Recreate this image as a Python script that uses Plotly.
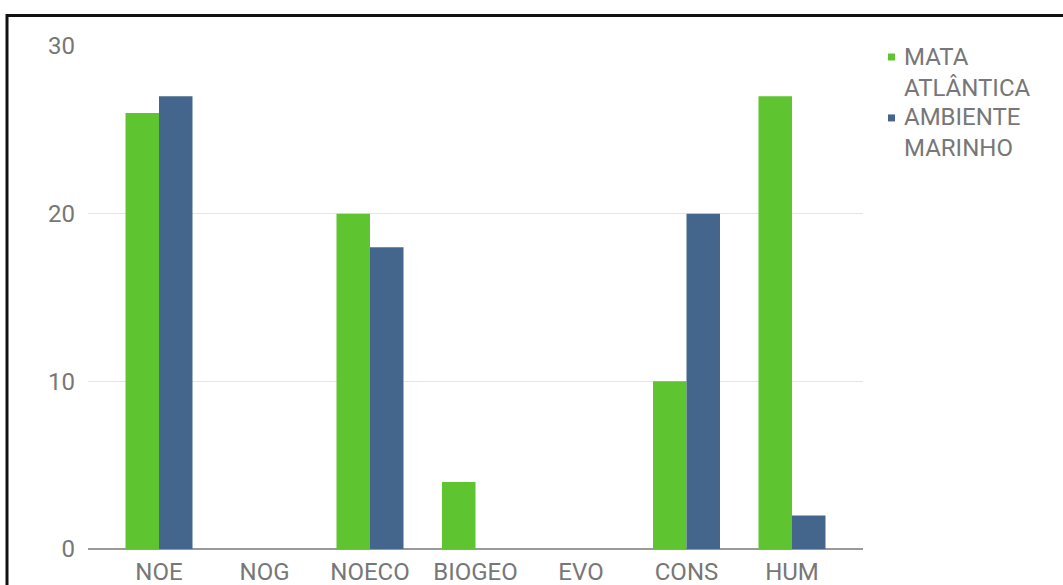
import plotly.graph_objects as go

categories = ["NOE", "NOG", "NOECO", "BIOGEO", "EVO", "CONS", "HUM"]
mata_atlantica = [26, 0, 20, 4, 0, 10, 27]
ambiente_marinho = [27, 0, 18, 0, 0, 20, 2]
series_names = ["MATA<br>ATLÂNTICA", "AMBIENTE<br>MARINHO"]
y_ticks = [0, 10, 20, 30]

GREEN = "#5ec42f"
BLUE = "#44668c"
TEXT = "#777777"
FONT = "Roboto"
FS = 24

W, H = 1063, 585
L, R, T, B = 88, 200, 45.5, 36
plot_w = W - L - R
plot_h = H - T - B


def px_x(p):
    return (p - L) / plot_w


def px_y(p):
    return (H - B - p) / plot_h


fig = go.Figure()
fig.add_trace(go.Bar(x=categories, y=mata_atlantica, name=series_names[0],
                     marker=dict(color=GREEN, line=dict(width=0))))
fig.add_trace(go.Bar(x=categories, y=ambiente_marinho, name=series_names[1],
                     marker=dict(color=BLUE, line=dict(width=0))))

# outer frame, running off the right and bottom of the page
fig.add_shape(type="rect", xref="paper", yref="paper",
              x0=px_x(7), x1=px_x(1100), y0=px_y(620), y1=px_y(15),
              line=dict(color="#111111", width=3), fillcolor="rgba(0,0,0,0)",
              layer="above")

# legend on the right: small square swatch + name wrapped over two lines
legend_tops = [41, 102]
for name, color, top in zip(series_names, [GREEN, BLUE], legend_tops):
    fig.add_shape(type="rect", xref="paper", yref="paper",
                  x0=px_x(888), x1=px_x(895), y0=px_y(top + 19), y1=px_y(top + 12),
                  line=dict(width=0), fillcolor=color)
    fig.add_annotation(text=name, xref="paper", yref="paper",
                       x=px_x(903), y=px_y(top), xanchor="left", yanchor="top",
                       align="left", showarrow=False, borderpad=0,
                       font=dict(family=FONT, size=FS, color=TEXT))

fig.update_layout(
    width=W, height=H,
    margin=dict(l=L, r=R, t=T, b=B),
    paper_bgcolor="white", plot_bgcolor="white",
    barmode="group", bargap=0.365, bargroupgap=0,
    font=dict(family=FONT, size=FS, color=TEXT),
    showlegend=False,
    xaxis=dict(range=[-0.673, 6.673], showgrid=False, showline=False, zeroline=False,
               automargin=False,
               tickfont=dict(family=FONT, size=FS, color=TEXT),
               ticks="", ticklabelstandoff=6),
    yaxis=dict(range=[0, 30], tickvals=y_ticks, showgrid=True,
               gridcolor="#e4e4e4", gridwidth=1,
               zeroline=True, zerolinecolor="#9a9a9a", zerolinewidth=1.5,
               showline=False, ticks="", automargin=False,
               tickfont=dict(family=FONT, size=FS, color=TEXT),
               ticklabelstandoff=12),
)

fig.write_html("out.html")
